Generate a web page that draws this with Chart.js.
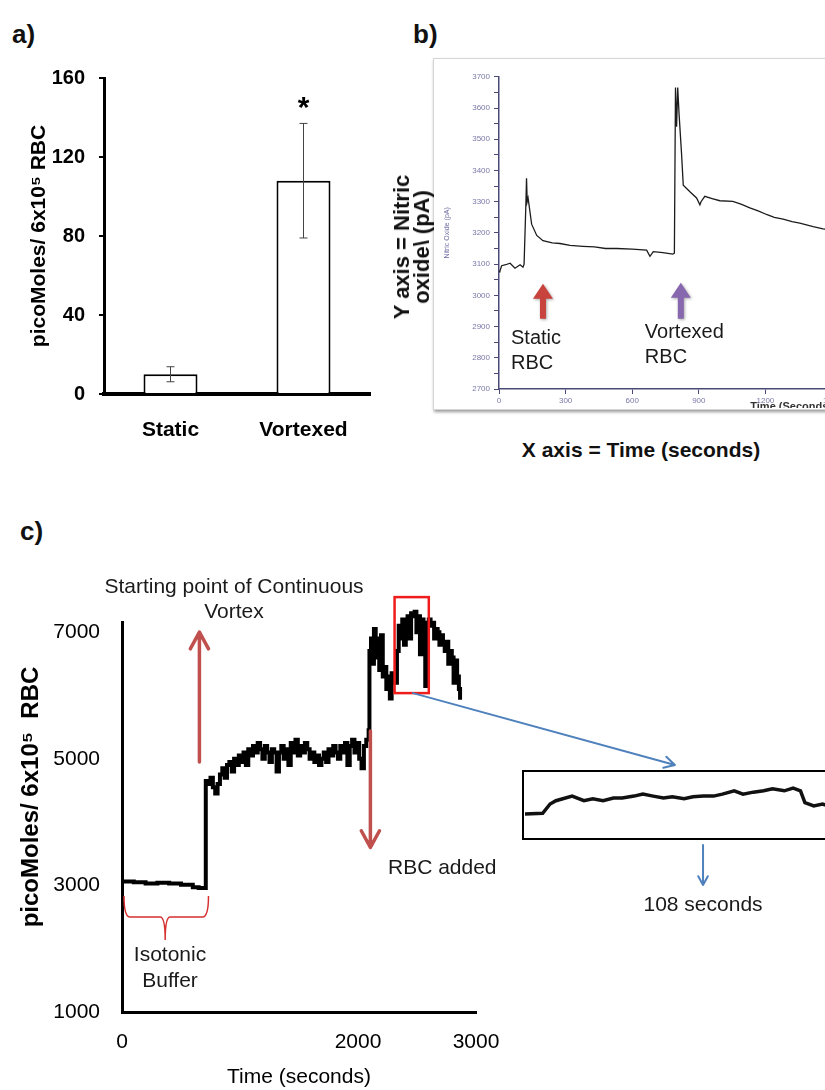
<!DOCTYPE html>
<html>
<head>
<meta charset="utf-8">
<script src="https://cdn.jsdelivr.net/npm/chart.js@4.4.0/dist/chart.umd.min.js"></script>
<style>
  html, body { margin: 0; padding: 0; width: 825px; height: 1090px; overflow: hidden; background: #fff; }
  body { position: relative; font-family: "Liberation Sans", Arial, sans-serif; color: #111; }
  canvas { position: absolute; }
  .painel { position: absolute; font: bold 26px "Liberation Sans", Arial, sans-serif; line-height: 26px; color: #111; }
  .moldura { position: absolute; left: 433px; top: 58px; width: 420px; height: 350px; border: 1px solid #d6d6d6; box-shadow: 1px 2px 3px #9a9a9a; background: #fff; }
  .tituloB { position: absolute; font: bold 21px "Liberation Sans", Arial, sans-serif; color: #111; white-space: nowrap; }
  .rot { left: 412px; top: 247px; font-size: 22px; line-height: 20px; text-align: center; transform: translate(-50%, -50%) rotate(-90deg); }
  .inset { position: absolute; left: 522px; top: 770px; width: 330px; height: 66px; border: 2.5px solid #000; background: #fff; }
</style>
</head>
<body>
<div class="painel" style="left:12px; top:21px;">a)</div>
<div class="painel" style="left:413px; top:21px;">b)</div>
<div class="painel" style="left:20px; top:518px;">c)</div>

<canvas id="graficoA" width="400" height="460" style="left:0; top:0;"></canvas>

<div class="moldura"></div>
<canvas id="graficoB" width="420" height="340" style="left:434px; top:68px;"></canvas>
<div class="tituloB rot">Y axis = Nitric<br>oxide\ (pA)</div>
<div class="tituloB" style="left:641px; top:450px; transform: translate(-50%, -50%);">X axis = Time (seconds)</div>

<canvas id="graficoC" width="825" height="530" style="left:0; top:560px;"></canvas>
<div class="inset"></div>
<canvas id="graficoZoom" width="330" height="66" style="left:524.5px; top:772.5px;"></canvas>

<script>
// ---- painel a: NO liberado por RBC ----
const categorias = ['Static', 'Vortexed'];
const mediaNO = [10, 108];
const erroNO = [3.8, 29];
const significancia = ['', '*'];

// ---- painel b: traçado do sensor (tempo em s, corrente em pA) ----
const tempoB = [0, 4, 12, 30, 50, 72, 95, 108, 113, 121,
  124, 127, 131, 147, 170, 198, 240, 275, 320, 378,
  430, 480, 531, 600, 665, 680, 695, 738, 783, 790,
  795, 800, 805, 811, 822, 830, 860, 890, 905, 910,
  927, 960, 995, 1053, 1090, 1130, 1170, 1205, 1240, 1280,
  1320, 1355, 1415, 1460, 1500];
const oxidoB = [3075, 3078, 3095, 3098, 3103, 3087, 3098, 3090, 3100, 3290,
  3375, 3300, 3312, 3228, 3192, 3175, 3168, 3166, 3160, 3157,
  3155, 3150, 3150, 3148, 3145, 3125, 3140, 3137, 3132, 3135,
  3666, 3540, 3666, 3582, 3457, 3353, 3332, 3312, 3290, 3300,
  3317, 3310, 3303, 3301, 3292, 3280, 3270, 3259, 3250, 3244,
  3236, 3231, 3220, 3213, 3208];
const ticksB = [2700, 2800, 2900, 3000, 3100, 3200, 3300, 3400, 3500, 3600, 3700];

// ---- painel c: vortex contínuo (tempo em s, picoMoles) ----
const tempoC = [0, 100, 200, 300, 400, 500, 600, 650, 700,
  710, 730, 750, 770, 790, 810, 830, 850, 870, 890,
  910, 930, 950, 970, 990, 1010, 1030, 1050, 1070, 1090,
  1110, 1130, 1150, 1170, 1190, 1210, 1230, 1250, 1270, 1290,
  1310, 1330, 1350, 1370, 1390, 1410, 1430, 1450, 1470, 1490,
  1510, 1530, 1550, 1570, 1590, 1610, 1630, 1650, 1670, 1690,
  1710, 1730, 1750, 1770, 1790, 1810, 1830, 1850, 1870, 1890,
  1910, 1930, 1950, 1970, 1990, 2010, 2030, 2050, 2070, 2090,
  2097, 2110, 2120, 2135, 2150, 2165, 2180, 2195, 2210, 2225,
  2240, 2255, 2270, 2285, 2300, 2315, 2330, 2345, 2360, 2375,
  2390, 2405, 2420, 2435, 2450, 2465, 2480, 2495, 2510, 2525,
  2540, 2555, 2570, 2585, 2600, 2615, 2630, 2645, 2660, 2675,
  2690, 2705, 2720, 2735, 2750, 2765, 2780, 2795, 2810, 2825,
  2840, 2855, 2865];
const picoC = [3060, 3050, 3030, 3040, 3030, 3010, 2970, 2960, 2960,
  4650, 4600, 4700, 4550, 4450, 4600, 4750, 4850, 4700, 4900,
  4950, 4800, 5000, 4900, 5050, 4950, 5100, 4900, 5150, 5050,
  5200, 5100, 5250, 5150, 5000, 5200, 5100, 4950, 5150, 5100,
  4800, 5100, 5200, 5000, 5150, 4900, 5250, 5100, 5300, 5050,
  5200, 5100, 5250, 5150, 5000, 5100, 4950, 5050, 4900, 5000,
  5100, 4950, 5150, 5050, 5200, 5100, 5000, 5200, 5100, 5250,
  4900, 5200, 5300, 5100, 5250, 5000, 4850, 5200, 5300, 5450,
  6700, 6900, 6500, 7050, 6600, 6900, 6400, 6950, 6300, 6450,
  6100, 6300, 5950, 6350, 6300, 6200, 6700, 7100, 6900, 7200,
  6800, 7200, 7250, 6900, 7300, 7250, 7320, 7000, 7250, 6650,
  7200, 7150, 6150, 7150, 7200, 7100, 7150, 6900, 7050, 7000,
  6800, 6950, 6800, 6700, 6850, 6500, 6700, 6600, 6200, 6550,
  6300, 6100, 5930];
const ticksCy = [1000, 3000, 5000, 7000];
const ticksCx = [0, 2000, 3000];

// ---- detalhe ampliado (108 s), sinal relativo ----
const tempoZoom = [0, 6, 8.5, 10.5, 16, 20, 23, 26.5, 30, 33, 37, 40, 43.5, 47, 50, 54,
  57, 60.5, 64, 67, 71, 74, 77.5, 81, 84, 88, 91, 93.5, 95, 98, 101, 103, 108];
const sinalZoom = [38, 39, 53, 58, 65, 58, 61, 58, 62, 62, 65, 68, 65, 62, 64, 61,
  64, 65, 65, 68, 73, 68, 71, 73, 76, 73, 77, 73, 55, 50, 53, 50, 51];

Chart.defaults.font.family = '"Liberation Sans", Arial, sans-serif';
Chart.defaults.color = '#000';
Chart.defaults.animation = false;

function pontos(xs, ys) {
  return xs.map((x, i) => ({ x: x, y: ys[i] }));
}

function seta(ctx, x1, y1, x2, y2, cor, larg, cab) {
  const ang = Math.atan2(y2 - y1, x2 - x1);
  ctx.save();
  ctx.strokeStyle = cor;
  ctx.lineWidth = larg;
  ctx.lineCap = 'round';
  ctx.lineJoin = 'round';
  ctx.beginPath();
  ctx.moveTo(x1, y1);
  ctx.lineTo(x2, y2);
  ctx.moveTo(x2 - cab * Math.cos(ang - 0.5), y2 - cab * Math.sin(ang - 0.5));
  ctx.lineTo(x2, y2);
  ctx.lineTo(x2 - cab * Math.cos(ang + 0.5), y2 - cab * Math.sin(ang + 0.5));
  ctx.stroke();
  ctx.restore();
}

function setaBloco(ctx, cx, yBase, yPonta, cor) {
  ctx.save();
  ctx.fillStyle = cor;
  ctx.shadowColor = 'rgba(0,0,0,0.35)';
  ctx.shadowBlur = 3;
  ctx.shadowOffsetX = 1;
  ctx.shadowOffsetY = 1;
  ctx.beginPath();
  ctx.moveTo(cx - 3, yBase);
  ctx.lineTo(cx - 3, yPonta + 15);
  ctx.lineTo(cx - 10, yPonta + 15);
  ctx.lineTo(cx, yPonta);
  ctx.lineTo(cx + 10, yPonta + 15);
  ctx.lineTo(cx + 3, yPonta + 15);
  ctx.lineTo(cx + 3, yBase);
  ctx.closePath();
  ctx.fill();
  ctx.restore();
}

// barras de erro + asterisco
const barrasErro = {
  id: 'barrasErro',
  afterDatasetsDraw(chart) {
    const ctx = chart.ctx;
    const y = chart.scales.y;
    const meta = chart.getDatasetMeta(0);
    ctx.save();
    meta.data.forEach((barra, i) => {
      const cx = barra.x;
      const topo = y.getPixelForValue(mediaNO[i] + erroNO[i]);
      const base = y.getPixelForValue(mediaNO[i] - erroNO[i]);
      ctx.strokeStyle = '#444';
      ctx.lineWidth = 1;
      ctx.beginPath();
      ctx.moveTo(cx, topo); ctx.lineTo(cx, base);
      ctx.moveTo(cx - 4, topo); ctx.lineTo(cx + 4, topo);
      ctx.moveTo(cx - 4, base); ctx.lineTo(cx + 4, base);
      ctx.stroke();
      if (significancia[i]) {
        ctx.fillStyle = '#000';
        ctx.font = 'bold 30px "Liberation Sans"';
        ctx.textAlign = 'center';
        ctx.textBaseline = 'alphabetic';
        ctx.fillText(significancia[i], cx, topo - 6);
      }
    });
    ctx.restore();
  }
};

new Chart(document.getElementById('graficoA'), {
  type: 'bar',
  data: {
    labels: categorias,
    datasets: [{
      data: mediaNO,
      backgroundColor: '#fff',
      borderColor: '#000',
      borderWidth: 2,
      barPercentage: 0.406,
      categoryPercentage: 1
    }]
  },
  options: {
    responsive: false,
    layout: { padding: { top: 78, right: 30, left: 0, bottom: 0 } },
    plugins: { legend: { display: false }, tooltip: { enabled: false } },
    scales: {
      x: {
        grid: { display: false },
        border: { color: '#000', width: 4 },
        ticks: { font: { size: 21, weight: 'bold' }, padding: 16 },
        afterFit: s => { s.height = 66; }
      },
      y: {
        min: 0, max: 160,
        afterBuildTicks: s => { s.ticks = [0, 40, 80, 120, 160].map(v => ({ value: v })); },
        grid: { drawOnChartArea: false, color: '#000', lineWidth: 2, tickLength: 5 },
        border: { color: '#000', width: 3 },
        ticks: { font: { size: 20, weight: 'bold' }, padding: 14 },
        title: {
          display: true,
          text: 'picoMoles/ 6x10\u2075 RBC',
          font: { size: 21, weight: 'bold' },
          padding: { top: 27, bottom: 0 }
        },
        afterFit: s => { s.width = 104; }
      }
    }
  },
  plugins: [barrasErro]
});

// anotações do painel b
const anotacoesB = {
  id: 'anotacoesB',
  afterDraw(chart) {
    const { ctx, scales: { x, y } } = chart;
    setaBloco(ctx, x.getPixelForValue(198), y.getPixelForValue(2925), y.getPixelForValue(3037), '#c8433d');
    setaBloco(ctx, x.getPixelForValue(819), y.getPixelForValue(2925), y.getPixelForValue(3040), '#8767ae');
    ctx.save();
    ctx.fillStyle = '#1a1a1a';
    ctx.font = '20px "Liberation Sans"';
    ctx.textAlign = 'left';
    ctx.textBaseline = 'middle';
    ctx.fillText('Static', x.getPixelForValue(54), y.getPixelForValue(2862));
    ctx.fillText('RBC', x.getPixelForValue(54), y.getPixelForValue(2781));
    ctx.fillText('Vortexed', x.getPixelForValue(657), y.getPixelForValue(2881));
    ctx.fillText('RBC', x.getPixelForValue(657), y.getPixelForValue(2800));
    ctx.restore();
  }
};

new Chart(document.getElementById('graficoB'), {
  type: 'line',
  data: {
    datasets: [{
      data: pontos(tempoB, oxidoB),
      borderColor: '#1c1c1c',
      borderWidth: 1.3,
      pointRadius: 0,
      tension: 0
    }]
  },
  options: {
    responsive: false,
    layout: { padding: { top: 3, right: 22, left: 0, bottom: 0 } },
    plugins: { legend: { display: false }, tooltip: { enabled: false } },
    scales: {
      x: {
        type: 'linear', min: 0, max: 1500,
        ticks: { stepSize: 300, color: '#7878a8', font: { size: 8 }, padding: 2, callback: v => String(v) },
        grid: { drawOnChartArea: false, color: '#4a4a78', tickLength: 5 },
        border: { color: '#4a4a78', width: 1.5 },
        title: { display: true, text: 'Time (Seconds)', align: 'end', color: '#333', font: { size: 11, weight: 'bold' }, padding: { top: 0, bottom: -6 } },
        afterFit: s => { s.height = 19; }
      },
      y: {
        min: 2700, max: 3700,
        afterBuildTicks: s => {
          const t = [];
          for (let v = 2700; v <= 3700; v += 25) t.push({ value: v });
          s.ticks = t;
        },
        ticks: {
          color: '#7878a8', font: { size: 8 }, padding: 4,
          callback: v => ticksB.includes(v) ? String(v) : ''
        },
        grid: { drawOnChartArea: false, color: '#4a4a78', tickLength: 5 },
        border: { color: '#4a4a78', width: 1.5 },
        title: { display: true, text: 'Nitric Oxide (pA)', color: '#6a6aa0', font: { size: 7 }, padding: { top: 9, bottom: 0 } },
        afterFit: s => { s.width = 65; }
      }
    }
  },
  plugins: [anotacoesB]
});

// anotações do painel c
const anotacoesC = {
  id: 'anotacoesC',
  afterDraw(chart) {
    const { ctx, scales: { x, y } } = chart;
    const px = v => x.getPixelForValue(v);
    const py = v => y.getPixelForValue(v);
    const vermelho = '#c0504d';
    const azul = '#4f81bd';

    seta(ctx, px(656), py(4950), px(656), py(7000), vermelho, 3.5, 19);
    seta(ctx, px(2105), py(5440), px(2105), py(3600), vermelho, 3.5, 19);

    // chave do tampão isotônico
    const x0 = px(0) + 2, x1 = px(733), xm = px(366);
    const yt = py(2832), ym = py(2500), yp = py(2137);
    ctx.save();
    ctx.strokeStyle = '#d63030';
    ctx.lineWidth = 1.5;
    ctx.beginPath();
    ctx.moveTo(x0, yt);
    ctx.quadraticCurveTo(x0, ym, x0 + 6, ym);
    ctx.lineTo(xm - 5, ym);
    ctx.quadraticCurveTo(xm, ym, xm, yp);
    ctx.quadraticCurveTo(xm, ym, xm + 5, ym);
    ctx.lineTo(x1 - 6, ym);
    ctx.quadraticCurveTo(x1, ym, x1, yt);
    ctx.stroke();

    // caixa da região ampliada
    ctx.strokeStyle = '#f01c1c';
    ctx.lineWidth = 2.5;
    ctx.strokeRect(px(2310), py(7553), px(2600) - px(2310), py(6037) - py(7553));
    ctx.restore();

    seta(ctx, px(2466), py(6037), px(4686), py(4900), azul, 2, 12);
    seta(ctx, px(4924), py(3638), px(4924), py(3006), azul, 2, 10);

    ctx.save();
    ctx.fillStyle = '#1a1a1a';
    ctx.font = '21px "Liberation Sans"';
    ctx.textBaseline = 'middle';
    ctx.textAlign = 'center';
    ctx.fillText('Starting point of Continuous', px(949), py(7714));
    ctx.fillText('Vortex', px(949), py(7319));
    ctx.fillText('Isotonic', px(407), py(1900));
    ctx.fillText('Buffer', px(407), py(1490));
    ctx.fillText('108 seconds', px(4924), py(2690));
    ctx.textAlign = 'left';
    ctx.fillText('RBC added', px(2254), py(3275));
    ctx.restore();
  }
};

new Chart(document.getElementById('graficoC'), {
  type: 'line',
  data: {
    datasets: [{
      data: pontos(tempoC, picoC),
      borderColor: '#000',
      borderWidth: 4,
      pointRadius: 0,
      stepped: true,
      clip: false
    }]
  },
  options: {
    responsive: false,
    layout: { padding: { top: 62, right: 349, left: 0, bottom: 0 } },
    plugins: { legend: { display: false }, tooltip: { enabled: false } },
    scales: {
      x: {
        type: 'linear', min: 0, max: 3000,
        afterBuildTicks: s => { s.ticks = ticksCx.map(v => ({ value: v })); },
        grid: { display: false },
        border: { color: '#000', width: 3 },
        ticks: { font: { size: 21 }, padding: 10, callback: v => String(v) },
        title: { display: true, text: 'Time (seconds)', font: { size: 21 }, padding: { top: 6, bottom: 0 } },
        afterFit: s => { s.height = 78; }
      },
      y: {
        min: 1000, max: 7160,
        afterBuildTicks: s => { s.ticks = ticksCy.map(v => ({ value: v })); },
        grid: { display: false },
        border: { color: '#000', width: 3 },
        ticks: { font: { size: 21 }, padding: 14, callback: v => String(v) },
        title: {
          display: true,
          text: '      picoMoles/ 6x10\u2075  RBC',
          font: { size: 24, weight: 'bold' },
          padding: { top: 17, bottom: 0 }
        },
        afterFit: s => { s.width = 122; }
      }
    }
  },
  plugins: [anotacoesC]
});

// detalhe ampliado
new Chart(document.getElementById('graficoZoom'), {
  type: 'line',
  data: {
    datasets: [{
      data: pontos(tempoZoom, sinalZoom),
      borderColor: '#111',
      borderWidth: 3.5,
      pointRadius: 0,
      tension: 0
    }]
  },
  options: {
    responsive: false,
    layout: { padding: 0 },
    plugins: { legend: { display: false }, tooltip: { enabled: false } },
    scales: {
      x: { type: 'linear', min: 0, max: 112, display: false },
      y: { min: 0, max: 100, display: false }
    }
  }
});
</script>
</body>
</html>
